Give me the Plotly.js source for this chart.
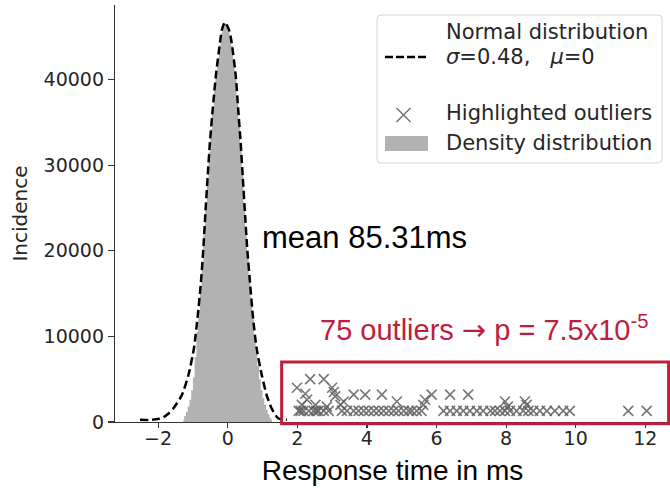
<!DOCTYPE html>
<html>
<head>
<meta charset="utf-8">
<script src="https://cdn.plot.ly/plotly-3.0.1.min.js"></script>
<style>html,body{margin:0;padding:0;background:#fff;}#chart{width:670px;height:488px;}</style>
</head>
<body>
<div id="chart"></div>
<script>
// Density histogram (bin centers, counts)
const histX = [-1.275,-1.225,-1.175,-1.125,-1.075,-1.025,-0.975,-0.925,-0.875,-0.825,-0.775,-0.725,-0.675,-0.625,-0.575,-0.525,-0.475,-0.425,-0.375,-0.325,-0.275,-0.225,-0.175,-0.125,-0.075,-0.025,0.025,0.075,0.125,0.175,0.225,0.275,0.325,0.375,0.425,0.475,0.525,0.575,0.625,0.675,0.725,0.775,0.825,0.875,0.925,0.975,1.025,1.075,1.125,1.175,1.225,1.275];
const histY = [300,700,1200,1800,2600,3700,5200,7600,10500,13000,15500,18500,21800,25000,28300,31500,34200,36500,38800,40700,42500,44000,45400,46200,46500,46200,45700,45000,43900,42200,40400,37700,34500,32000,28900,25600,22200,19300,16800,14500,12000,10000,8200,6500,5000,3700,2800,2000,1400,900,500,250];

// Normal distribution curve
const curveX = [-2.52,-2.25,-2.0,-1.85,-1.70,-1.56,-1.32,-1.13,-0.97,-0.86,-0.77,-0.70,-0.645,-0.575,-0.51,-0.43,-0.34,-0.22,-0.17,-0.08,0.04,0.11,0.23,0.30,0.37,0.43,0.50,0.56,0.64,0.72,0.83,0.98,1.12,1.26,1.45,1.70];
const curveY = [250,250,350,550,1000,1600,3120,5460,8610,12470,16320,20290,24140,28760,32730,36580,40440,44400,45760,46690,45760,44400,40440,36580,32730,28760,24140,20290,16320,12470,8610,5460,3120,1600,430,260];

// Highlighted outliers
const outX = [2.37,2.76,1.99,3.00,3.05,2.23,3.09,3.62,3.95,4.43,2.28,3.33,4.86,2.13,2.52,3.24,
  2.04,2.18,2.33,2.47,2.61,2.76,2.90,3.28,3.43,3.62,3.76,3.91,4.05,4.20,4.34,4.48,4.63,4.77,4.91,5.06,5.20,
  5.86,6.39,6.91,5.67,7.97,8.54,5.62,8.59,
  5.29,5.43,5.57,6.20,6.39,6.58,6.77,6.96,7.16,7.34,7.68,7.82,7.97,8.11,8.30,8.49,8.64,8.78,
  8.97,9.17,9.40,9.64,9.83,11.51,12.04,
  2.10,2.55,2.85,7.55,8.05];
const outY = [5000,5000,4000,4000,3500,3300,3000,3200,3200,3200,2600,2400,2400,2000,2000,2000,
  1300,1300,1300,1300,1300,1300,1300,1300,1300,1300,1300,1300,1300,1300,1300,1300,1300,1300,1300,1300,1300,
  3200,3200,3200,2600,2400,2400,2000,2000,
  1300,1300,1300,1300,1300,1300,1300,1300,1300,1300,1300,1300,1300,1300,1300,1300,1300,1300,
  1300,1300,1300,1300,1300,1300,1300,
  1300,1300,1800,1300,1800];

const xTicks = [-2,0,2,4,6,8,10,12];
const yTicks = [0,10000,20000,30000,40000];
const outlierBox = {x0: 1.55, x1: 12.67, top: 7000};

const M = {l:115, r:0, t:5, b:66};
const W = 670, H = 488;
const pw = W - M.l - M.r, ph = H - M.t - M.b;
const px = v => (v - M.l) / pw;
const py = v => (H - M.b - v) / ph;
const yMax = 48700;

const crimson = 'rgb(190,30,60)';
const grayFill = '#b2b2b2';

const traces = [
  {type:'scatter', mode:'lines', x:histX, y:histY, line:{shape:'hvh', width:0, color:grayFill}, fill:'tozeroy', fillcolor:grayFill, name:'Density distribution', showlegend:false, hoverinfo:'skip'},
  {type:'scatter', mode:'lines', x:curveX, y:curveY, line:{color:'#000', width:2.5, dash:'8px,4px', shape:'spline', smoothing:0.6}, name:'Normal distribution', showlegend:false},
  {type:'scatter', mode:'markers', x:outX, y:outY, marker:{symbol:'x-thin', size:10, line:{width:1.6, color:'rgba(95,95,95,0.85)'}}, name:'Highlighted outliers', showlegend:false}
];

const lf = {family:'DejaVu Sans', size:21, color:'#262626'};
const lx = 385, lx2 = 428, tx = 444;
const bx0 = 377, bx1 = 662, by0 = 15, by1 = 163, r = 4;
const boxPath = 'M' + px(bx0+r) + ',' + py(by0) + ' L' + px(bx1-r) + ',' + py(by0) +
  ' Q' + px(bx1) + ',' + py(by0) + ' ' + px(bx1) + ',' + py(by0+r) +
  ' L' + px(bx1) + ',' + py(by1-r) + ' Q' + px(bx1) + ',' + py(by1) + ' ' + px(bx1-r) + ',' + py(by1) +
  ' L' + px(bx0+r) + ',' + py(by1) + ' Q' + px(bx0) + ',' + py(by1) + ' ' + px(bx0) + ',' + py(by1-r) +
  ' L' + px(bx0) + ',' + py(by0+r) + ' Q' + px(bx0) + ',' + py(by0) + ' ' + px(bx0+r) + ',' + py(by0) + ' Z';
const xc = 403.5, yc = 115, hs = 7;
const xPath = 'M' + px(xc-hs) + ',' + py(yc-hs) + ' L' + px(xc+hs) + ',' + py(yc+hs) +
  ' M' + px(xc-hs) + ',' + py(yc+hs) + ' L' + px(xc+hs) + ',' + py(yc-hs);

const shapes = [
  {type:'rect', xref:'x', yref:'paper', x0:outlierBox.x0, x1:outlierBox.x1, y0:-0.004, y1:outlierBox.top / yMax, line:{color:crimson, width:3}, layer:'above'},
  {type:'path', xref:'paper', yref:'paper', path:boxPath, line:{color:'#d4d4d4', width:1}, fillcolor:'rgba(255,255,255,0.85)', layer:'above'},
  {type:'line', xref:'paper', yref:'paper', x0:px(lx), x1:px(lx2), y0:py(57), y1:py(57), line:{color:'#000', width:2.5, dash:'8px,3px'}, layer:'above'},
  {type:'path', xref:'paper', yref:'paper', path:xPath, line:{color:'#6e6e6e', width:1.4}, layer:'above'},
  {type:'rect', xref:'paper', yref:'paper', x0:px(lx), x1:px(lx2), y0:py(151), y1:py(136), fillcolor:grayFill, line:{width:0}, layer:'above'}
];

const nb = '\u00a0';
const annotations = [
  {xref:'paper', yref:'paper', x:px(tx), y:py(32), xanchor:'left', yanchor:'middle', text:'Normal distribution', showarrow:false, font:lf},
  {xref:'paper', yref:'paper', x:px(tx), y:py(57), xanchor:'left', yanchor:'middle', text:'<i>σ</i>' + '=0.48,' + nb+nb+nb + '<i>μ</i>=0', showarrow:false, font:lf},
  {xref:'paper', yref:'paper', x:px(tx), y:py(113), xanchor:'left', yanchor:'middle', text:'Highlighted outliers', showarrow:false, font:lf},
  {xref:'paper', yref:'paper', x:px(tx), y:py(143), xanchor:'left', yanchor:'middle', text:'Density distribution', showarrow:false, font:lf},
  {xref:'x', yref:'y', x:0.93, y:21600, xanchor:'left', yanchor:'middle', text:'mean 85.31ms', showarrow:false, font:{family:'Liberation Sans, Arial', size:31, color:'#000'}},
  {xref:'x', yref:'y', x:2.6, y:10950, xanchor:'left', yanchor:'middle', text:'75 outliers <span style="font-family:DejaVu Sans">→</span> p = 7.5x10<sup>-5</sup>', showarrow:false, font:{family:'Liberation Sans, Arial', size:29, color:crimson}}
];

const layout = {
  width:W, height:H, margin:M, paper_bgcolor:'#fff', plot_bgcolor:'#fff',
  showlegend:false,
  xaxis:{range:[-3.239, 12.71], tickvals:xTicks, ticks:'outside', ticklen:5, tickwidth:1.2, tickcolor:'#333', showline:true, linecolor:'#333', linewidth:1.2, showgrid:false, zeroline:false,
    ticklabelstandoff:-6,
    tickfont:{family:'DejaVu Sans', size:19, color:'#262626'},
    title:{text:'Response time in ms', font:{family:'Liberation Sans, Arial', size:28, color:'#000'}, standoff:12}},
  yaxis:{range:[0, yMax], tickvals:yTicks, tickformat:'d', ticks:'outside', ticklen:6, tickwidth:1.2, tickcolor:'#333', showline:true, linecolor:'#333', linewidth:1.2, showgrid:false, zeroline:false,
    tickfont:{family:'DejaVu Sans', size:19, color:'#262626'},
    title:{text:'Incidence', font:{family:'DejaVu Sans', size:20, color:'#262626'}, standoff:10}},
  shapes:shapes, annotations:annotations
};

Plotly.newPlot('chart', traces, layout, {staticPlot:true, displayModeBar:false});
</script>
</body>
</html>
